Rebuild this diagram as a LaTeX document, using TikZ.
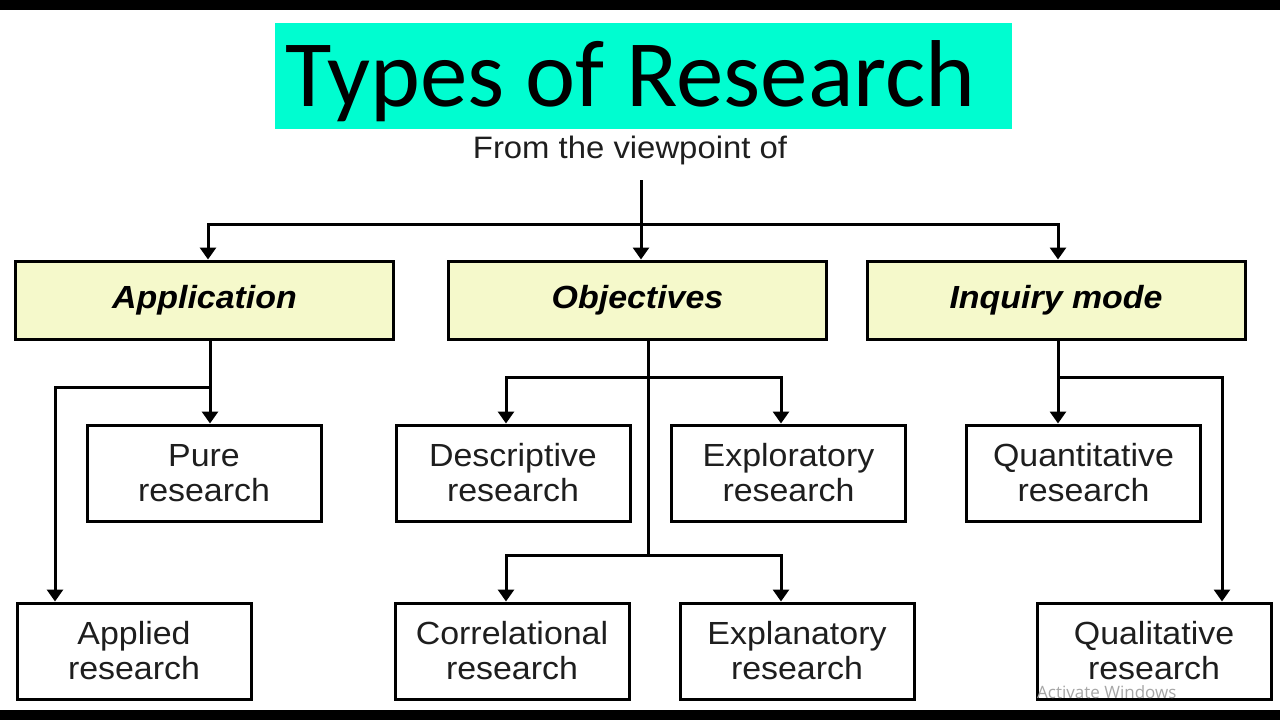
\documentclass[tikz,border=0pt]{standalone}
\usepackage{fontspec}
\setsansfont{Liberation Sans}[FakeStretch=1.06]
\newfontfamily\trtitlefont{Carlito}
\newfontfamily\trwmfont{Open Sans}
\usepackage{xcolor}
\usepackage{tikz}
\usetikzlibrary{arrows.meta,positioning}
\definecolor{trTitle}{HTML}{00FDD0}
\definecolor{trKey}{HTML}{F5F9CB}
\definecolor{trInk}{HTML}{1E1E1E}
\tikzset{
  tr diagram/.style={font=\sffamily, text=trInk, line join=miter},
  tr box/.style={draw=black, fill=white, line width=3pt, align=center,
    minimum width=234pt, minimum height=96pt, inner sep=0pt,
    font=\sffamily\fontsize{32}{35}\selectfont},
  tr key box/.style={tr box, fill=trKey, minimum width=378pt, minimum height=78pt,
    font=\sffamily\bfseries\itshape\fontsize{32}{35}\selectfont, text=black},
  tr line/.style={draw=black, line width=3pt},
  tr arrow/.style={tr line, -{Triangle[length=12pt,width=16pt]}},
  tr label/.style={font=\sffamily\fontsize{31}{34}\selectfont}
}
\begin{document}
\begin{tikzpicture}[tr diagram,x=1pt,y=-1pt]
\useasboundingbox (0,0) rectangle (1280,720);
\fill[black] (0,0) rectangle (1280,10);
\fill[black] (0,710) rectangle (1280,720);
\node[fill=trTitle,minimum width=737pt,minimum height=106pt,inner sep=0pt] (title) at (643.5,75.5) {};
\node[anchor=base west,inner sep=0pt,font=\trtitlefont\fontsize{95}{100}\selectfont,text=black] (titletext) at (285,106) {Types of Research};
\node[tr label,anchor=base,inner sep=0pt] (viewpoint) at (630,158) {From the viewpoint of};
\node[tr key box] (app) at (204.5,300) {Application};
\node[tr key box] (obj) at (637.5,300) {Objectives};
\node[tr key box] (inq) at (1056,300) {Inquiry mode};
\node[tr box] (pure) at (204,473) {Pure\\research};
\node[tr box] (desc) at (513,473) {Descriptive\\research};
\node[tr box] (explo) at (788.5,473) {Exploratory\\research};
\node[tr box] (quant) at (1083.5,473) {Quantitative\\research};
\node[tr box] (applied) at (134,651) {Applied\\research};
\node[tr box] (correl) at (512,651) {Correlational\\research};
\node[tr box] (expla) at (797,651) {Explanatory\\research};
\node[tr box] (qual) at (1154,651) {Qualitative\\research};
\coordinate (vtop) at (641,180);
\coordinate (split) at (641,224);
\draw[tr arrow] (vtop) -- (vtop |- obj.north);
\draw[tr arrow] (split) -| (app.north -| 208,0);
\draw[tr arrow] (split) -| (inq.north -| 1058,0);
\coordinate (appfork) at (210,387);
\draw[tr arrow] (app.south -| appfork) -- (pure.north -| appfork);
\draw[tr arrow] (appfork) -| (applied.north -| 55,0);
\coordinate (objtop) at (648,377);
\coordinate (objbot) at (648,555);
\draw[tr line] (obj.south -| objtop) -- (objbot);
\draw[tr arrow] (objtop) -| (desc.north -| 506,0);
\draw[tr arrow] (objtop) -| (explo.north -| 781,0);
\draw[tr arrow] (objbot) -| (correl.north -| 506,0);
\draw[tr arrow] (objbot) -| (expla.north -| 781,0);
\coordinate (inqfork) at (1058,377);
\draw[tr arrow] (inq.south -| inqfork) -- (quant.north -| inqfork);
\draw[tr arrow] (inqfork) -| (qual.north -| 1222,0);
\node[anchor=base west,inner sep=0pt,font=\trwmfont\fontsize{17}{20}\selectfont,text=black!35] (watermark) at (1037,698) {Activate Windows};
\end{tikzpicture}
\end{document}
